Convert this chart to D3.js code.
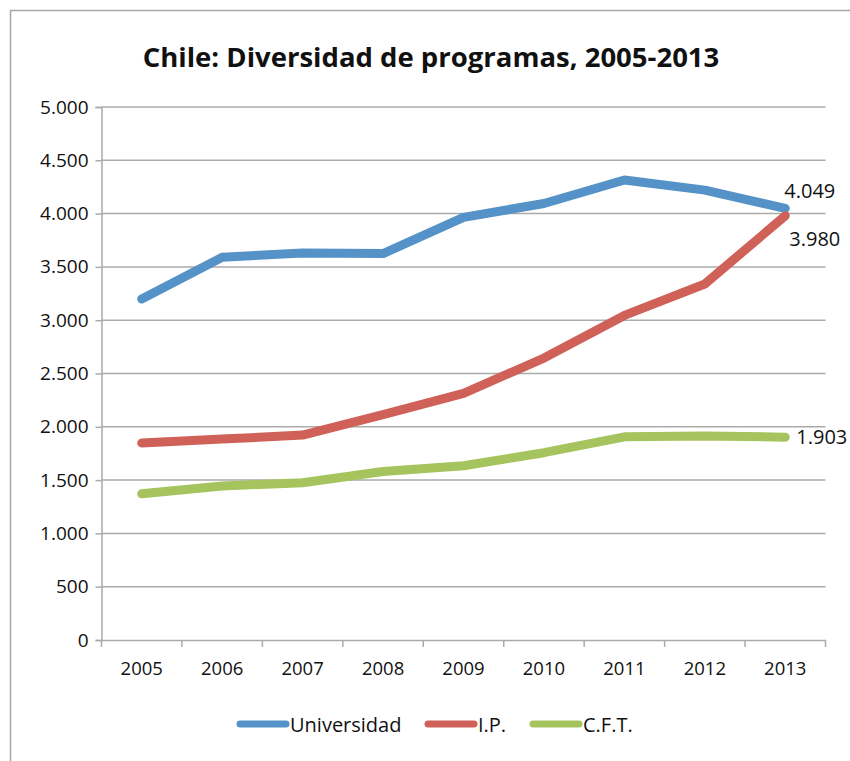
<!DOCTYPE html>
<html>
<head>
<meta charset="utf-8">
<script src="https://cdn.jsdelivr.net/npm/d3@7"></script>
<style>
  body { margin: 0; background: #fff; }
  svg text { font-family: "Open Sans", "Noto Sans", sans-serif; fill: #111; }
</style>
</head>
<body>
<div id="chart"></div>
<script>
// chart data
const years = ["2005", "2006", "2007", "2008", "2009", "2010", "2011", "2012", "2013"];
const universidad = [3200, 3590, 3630, 3625, 3965, 4095, 4315, 4220, 4049];
const ip = [1848, 1885, 1922, 2115, 2314, 2645, 3045, 3340, 3980];
const cft = [1372, 1445, 1475, 1580, 1635, 1757, 1906, 1914, 1903];
const seriesNames = ["Universidad", "I.P.", "C.F.T."];
const yTicks = [0, 500, 1000, 1500, 2000, 2500, 3000, 3500, 4000, 4500, 5000];

const colors = ["#5592C8", "#CF6159", "#A5C45D"];
const allSeries = [universidad, ip, cft];

const W = 850, H = 761;
const svg = d3.select("#chart").append("svg")
  .attr("width", W)
  .attr("height", H);

// outer chart frame
svg.append("rect")
  .attr("x", 10.5).attr("y", 10.5)
  .attr("width", W + 20).attr("height", H + 20)
  .attr("fill", "none")
  .attr("stroke", "#A6A6A6")
  .attr("stroke-width", 1.5);

svg.append("text")
  .attr("x", 431).attr("y", 67)
  .attr("text-anchor", "middle")
  .style("font-size", "27.5px")
  .style("font-weight", "bold")
  .text("Chile: Diversidad de programas, 2005-2013");

const plotL = 101.5, plotR = 825.5, plotT = 107, plotB = 640;

const x = d3.scaleBand().domain(years).range([plotL, plotR]).padding(0);
const y = d3.scaleLinear().domain([0, 5000]).range([plotB, plotT]);

const loc = d3.formatLocale({decimal: ",", thousands: ".", grouping: [3], currency: ["", ""]});
const fmt = loc.format(",");

// horizontal gridlines
svg.append("g").selectAll("line")
  .data(yTicks.filter(t => t > 0))
  .enter().append("line")
  .attr("x1", plotL).attr("x2", plotR)
  .attr("y1", d => y(d)).attr("y2", d => y(d))
  .attr("stroke", "#ABABAB")
  .attr("stroke-width", 1.5);

// y axis
const yAxis = svg.append("g")
  .attr("transform", `translate(${plotL},0)`)
  .call(d3.axisLeft(y).tickValues(yTicks).tickFormat(fmt).tickSize(6).tickPadding(7));
yAxis.selectAll("line, path").attr("stroke", "#ABABAB").attr("stroke-width", 1.5);
yAxis.selectAll("text").style("font-size", "19px").style("font-family", '"Open Sans", sans-serif').attr("fill", "#111");

// x axis with ticks at band boundaries
const xAxis = svg.append("g")
  .attr("transform", `translate(0,${plotB})`)
  .call(d3.axisBottom(x).tickSize(0).tickPadding(22));
xAxis.select("path").attr("stroke", "#ABABAB").attr("stroke-width", 1.5);
xAxis.selectAll("text").style("font-size", "18.5px").style("font-family", '"Open Sans", sans-serif').attr("fill", "#111");
const bounds = years.map(d => x(d)).concat([x(years[years.length - 1]) + x.bandwidth()]);
xAxis.selectAll("line.bound")
  .data(bounds)
  .enter().append("line")
  .attr("class", "bound")
  .attr("x1", d => d).attr("x2", d => d)
  .attr("y1", 0).attr("y2", 7)
  .attr("stroke", "#ABABAB")
  .attr("stroke-width", 1.5);

const line = d3.line()
  .x((d, i) => x(years[i]) + x.bandwidth() / 2)
  .y(d => y(d));

allSeries.forEach((s, k) => {
  svg.append("path")
    .datum(s)
    .attr("d", line)
    .attr("fill", "none")
    .attr("stroke", colors[k])
    .attr("stroke-width", 9)
    .attr("stroke-linejoin", "round")
    .attr("stroke-linecap", "round");
});

// data labels on the last point
const last = years.length - 1;
const lx = x(years[last]) + x.bandwidth() / 2;
const labels = [
  {v: universidad[last], dx: -1, dy: -10},
  {v: ip[last], dx: 4, dy: 30},
  {v: cft[last], dx: 11, dy: 7}
];
labels.forEach(l => {
  svg.append("text")
    .attr("x", lx + l.dx)
    .attr("y", y(l.v) + l.dy)
    .style("font-size", "20px")
    .text(fmt(l.v));
});

// legend
const legendX = [237, 425, 530];
seriesNames.forEach((n, k) => {
  svg.append("line")
    .attr("x1", legendX[k] + 3).attr("x2", legendX[k] + 49)
    .attr("y1", 724).attr("y2", 724)
    .attr("stroke", colors[k])
    .attr("stroke-width", 7)
    .attr("stroke-linecap", "round");
  svg.append("text")
    .attr("x", legendX[k] + 53)
    .attr("y", 732)
    .style("font-size", "20px")
    .text(n);
});
</script>
</body>
</html>
